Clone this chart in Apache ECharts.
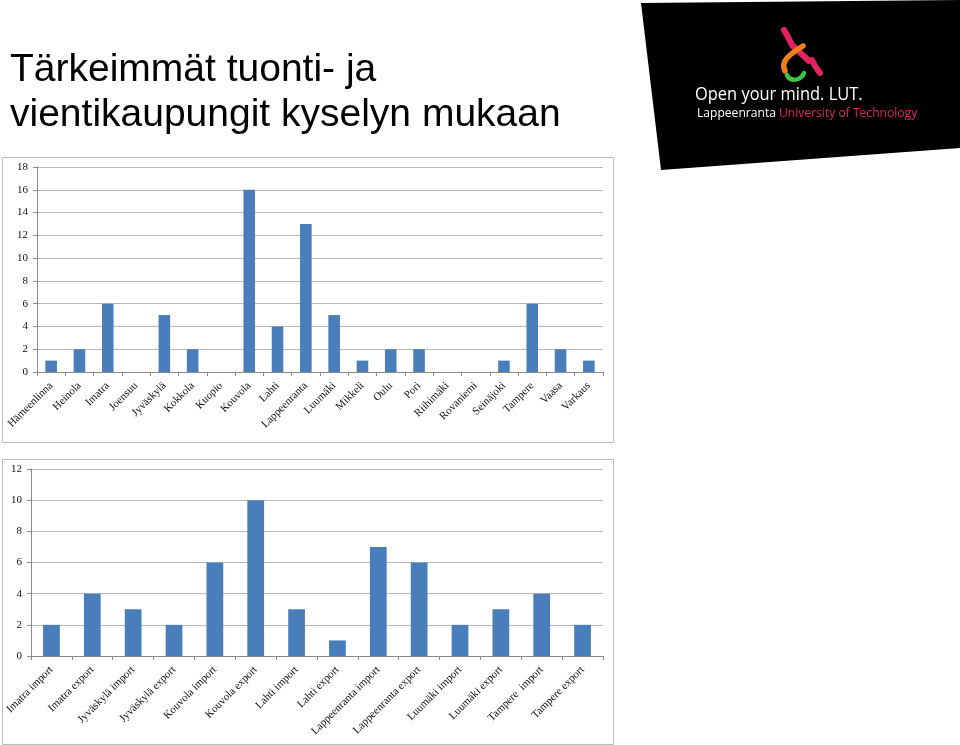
<!DOCTYPE html>
<html>
<head>
<meta charset="utf-8">
<script src="https://cdn.jsdelivr.net/npm/echarts@6/dist/echarts.min.js"></script>
<style>
html,body{margin:0;padding:0;background:#fff;}
#main{width:960px;height:745px;}
</style>
</head>
<body>
<div id="main"></div>
<script>
// Top chart: cities
var cityCategories = ['Hämeenlinna','Heinola','Imatra','Joensuu','Jyväskylä','Kokkola','Kuopio','Kouvola','Lahti','Lappeenranta','Luumäki','Mikkeli','Oulu','Pori','Riihimäki','Rovaniemi','Seinäjoki','Tampere','Vaasa','Varkaus'];
var cityValues = [1,2,6,0,5,2,0,16,4,13,5,1,2,2,0,0,1,6,2,1];
// Bottom chart: import/export
var flowCategories = ['Imatra import','Imatra export','Jyväskylä import','Jyväskylä export','Kouvola import','Kouvola export','Lahti import','Lahti export','Lappeenranta import','Lappeenranta export','Luumäki import','Luumäki export','Tampere  import','Tampere export'];
var flowValues = [2,4,3,2,6,10,3,1,7,6,2,3,4,2];

var titleLines = ['Tärkeimmät tuonti- ja', 'vientikaupungit kyselyn mukaan'];

var serif = '"Liberation Serif", "Times New Roman", serif';
var axisGray = '#8c8c8c';
var gridGray = '#b8b8b8';
var barBlue = '#4a7ebb';

var chart = echarts.init(document.getElementById('main'), null, {renderer:'canvas'});

function xAxisCfg(idx, cats){
  return {
    type:'category', gridIndex: idx, data: cats,
    axisLine:{show:true, lineStyle:{color:axisGray, width:1}},
    axisTick:{show:true, length:4, lineStyle:{color:axisGray}},
    axisLabel:{rotate:45, interval:0, fontFamily:serif, fontSize:11, color:'#111', margin:12}
  };
}
function yAxisCfg(idx, max){
  return {
    type:'value', gridIndex: idx, min:0, max:max, interval:2,
    axisLine:{show:true, lineStyle:{color:axisGray, width:1}},
    axisTick:{show:true, length:4, lineStyle:{color:axisGray}},
    splitLine:{show:true, lineStyle:{color:gridGray, width:1}},
    axisLabel:{fontFamily:serif, fontSize:11, color:'#111', margin:9}
  };
}

var option = {
  animation:false,
  backgroundColor:'#fff',
  grid:[
    {left:37, right:357, top:167, bottom:373, containLabel:false},
    {left:31, right:357, top:469, bottom:89, containLabel:false}
  ],
  xAxis:[xAxisCfg(0, cityCategories), xAxisCfg(1, flowCategories)],
  yAxis:[yAxisCfg(0, 18), yAxisCfg(1, 12)],
  series:[
    {type:'bar', xAxisIndex:0, yAxisIndex:0, data:cityValues, barWidth:'41%', itemStyle:{color:barBlue}},
    {type:'bar', xAxisIndex:1, yAxisIndex:1, data:flowValues, barWidth:'41%', itemStyle:{color:barBlue}}
  ],
  graphic:[
    // chart frames
    {type:'rect', shape:{x:2.5, y:157.5, width:611, height:285}, style:{fill:null, stroke:'#bdbdbd', lineWidth:1}, z:-1},
    {type:'rect', shape:{x:2.5, y:459.5, width:611, height:285}, style:{fill:null, stroke:'#bdbdbd', lineWidth:1}, z:-1},
    // title
    {type:'text', left:10, top:51, style:{text:titleLines[0], font:'39px "Liberation Sans", Arial, sans-serif', fill:'#000'}},
    {type:'text', left:10, top:96, style:{text:titleLines[1], font:'39px "Liberation Sans", Arial, sans-serif', fill:'#000'}},
    // logo black panel
    {type:'polygon', shape:{points:[[641,3],[960,0],[960,148],[661,170]]}, style:{fill:'#000'}},
    // ampersand
    {type:'polyline', shape:{points:[[784,30],[788,37],[792,45],[809,61],[812,60],[815,66],[820,73]]}, style:{stroke:'#e3235f', lineWidth:6, fill:null, lineCap:'round', lineJoin:'round'}},
    {type:'bezierCurve', shape:{x1:803, y1:46, x2:785, y2:71, cpx1:790, cpy1:54, cpx2:780, cpy2:61}, style:{stroke:'#f07d1e', lineWidth:5.5, fill:null, lineCap:'round'}},
    {type:'bezierCurve', shape:{x1:787, y1:75, x2:804, y2:73, cpx1:790, cpy1:82, cpx2:801, cpy2:81}, style:{stroke:'#3ec43e', lineWidth:4.5, fill:null, lineCap:'round'}},
    // logo texts
    {type:'text', x:695, y:85, scaleX:0.865, style:{text:'Open your mind. LUT.', font:'19px "Open Sans", "DejaVu Sans", sans-serif', fill:'#fff'}},
    {type:'text', x:697, y:107, scaleX:0.93, style:{rich:{a:{fill:'#fff', font:'13px "Open Sans", sans-serif'}, b:{fill:'#e0245e', font:'13px "Open Sans", sans-serif'}}, text:'{a|Lappeenranta }{b|University of Technology}'}}
  ]
};
chart.setOption(option);
</script>
</body>
</html>
